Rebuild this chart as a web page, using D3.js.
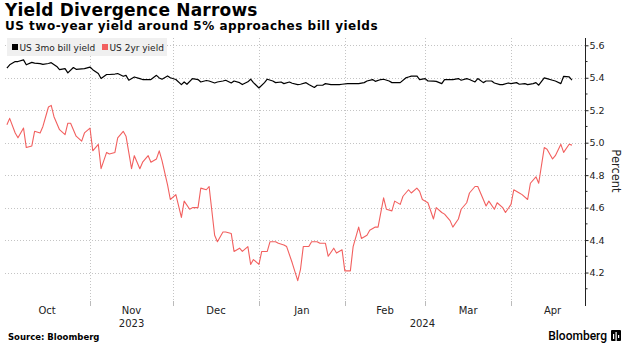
<!DOCTYPE html>
<html>
<head>
<meta charset="utf-8">
<script src="https://cdn.jsdelivr.net/npm/d3@7"></script>
<style>
  html, body { margin: 0; padding: 0; background: #fff; }
  svg { display: block; font-family: "DejaVu Sans", sans-serif; }
</style>
</head>
<body>
<div id="viz"></div>
<script>
// Values (percent), trading days Oct 2023 - Apr 2024.
const billSeries = [
  ["2023-10-02", 5.46], ["2023-10-03", 5.48], ["2023-10-05", 5.50], ["2023-10-06", 5.50],
  ["2023-10-08", 5.51], ["2023-10-09", 5.48], ["2023-10-11", 5.495], ["2023-10-12", 5.49],
  ["2023-10-14", 5.487], ["2023-10-15", 5.483], ["2023-10-17", 5.488], ["2023-10-18", 5.493],
  ["2023-10-20", 5.47], ["2023-10-21", 5.45], ["2023-10-23", 5.456], ["2023-10-24", 5.43],
  ["2023-10-26", 5.463], ["2023-10-27", 5.452], ["2023-10-29", 5.455], ["2023-10-30", 5.456],
  ["2023-11-01", 5.466], ["2023-11-02", 5.45], ["2023-11-04", 5.426], ["2023-11-05", 5.395],
  ["2023-11-07", 5.42], ["2023-11-08", 5.42], ["2023-11-10", 5.423], ["2023-11-11", 5.426],
  ["2023-11-13", 5.409], ["2023-11-14", 5.415], ["2023-11-15", 5.385], ["2023-11-17", 5.405],
  ["2023-11-19", 5.395], ["2023-11-20", 5.389], ["2023-11-22", 5.389], ["2023-11-23", 5.389],
  ["2023-11-25", 5.415], ["2023-11-26", 5.399], ["2023-11-27", 5.391], ["2023-11-29", 5.411],
  ["2023-11-30", 5.40], ["2023-12-02", 5.389], ["2023-12-04", 5.358], ["2023-12-05", 5.374],
  ["2023-12-06", 5.36], ["2023-12-08", 5.395], ["2023-12-10", 5.389], ["2023-12-11", 5.374],
  ["2023-12-13", 5.383], ["2023-12-14", 5.38], ["2023-12-16", 5.368], ["2023-12-17", 5.374],
  ["2023-12-19", 5.38], ["2023-12-20", 5.385], ["2023-12-22", 5.368], ["2023-12-23", 5.38],
  ["2023-12-25", 5.37], ["2023-12-26", 5.358], ["2023-12-28", 5.375], ["2023-12-29", 5.391],
  ["2023-12-30", 5.37], ["2024-01-01", 5.337], ["2024-01-03", 5.37], ["2024-01-04", 5.391],
  ["2024-01-06", 5.38], ["2024-01-07", 5.37], ["2024-01-09", 5.374], ["2024-01-10", 5.364],
  ["2024-01-12", 5.374], ["2024-01-13", 5.366], ["2024-01-15", 5.358], ["2024-01-16", 5.36],
  ["2024-01-18", 5.37], ["2024-01-19", 5.358], ["2024-01-21", 5.34], ["2024-01-22", 5.354],
  ["2024-01-24", 5.354], ["2024-01-25", 5.364], ["2024-01-27", 5.358], ["2024-01-28", 5.358],
  ["2024-01-30", 5.358], ["2024-01-31", 5.36], ["2024-02-02", 5.364], ["2024-02-03", 5.364],
  ["2024-02-05", 5.364], ["2024-02-06", 5.364], ["2024-02-08", 5.37], ["2024-02-09", 5.38],
  ["2024-02-11", 5.389], ["2024-02-12", 5.378], ["2024-02-14", 5.389], ["2024-02-15", 5.391],
  ["2024-02-17", 5.38], ["2024-02-18", 5.37], ["2024-02-19", 5.37], ["2024-02-21", 5.37],
  ["2024-02-23", 5.399], ["2024-02-24", 5.405], ["2024-02-25", 5.41], ["2024-02-27", 5.411],
  ["2024-02-28", 5.389], ["2024-03-01", 5.395], ["2024-03-02", 5.38], ["2024-03-04", 5.379],
  ["2024-03-05", 5.378], ["2024-03-07", 5.364], ["2024-03-08", 5.389], ["2024-03-10", 5.389],
  ["2024-03-11", 5.389], ["2024-03-13", 5.395], ["2024-03-14", 5.385], ["2024-03-16", 5.395],
  ["2024-03-17", 5.389], ["2024-03-19", 5.374], ["2024-03-20", 5.395], ["2024-03-22", 5.37],
  ["2024-03-23", 5.38], ["2024-03-25", 5.38], ["2024-03-26", 5.368], ["2024-03-28", 5.358],
  ["2024-03-29", 5.358], ["2024-03-31", 5.368], ["2024-04-01", 5.364], ["2024-04-03", 5.37],
  ["2024-04-04", 5.36], ["2024-04-06", 5.364], ["2024-04-07", 5.358], ["2024-04-09", 5.364],
  ["2024-04-10", 5.37], ["2024-04-11", 5.354], ["2024-04-13", 5.399], ["2024-04-14", 5.395],
  ["2024-04-16", 5.385], ["2024-04-17", 5.38], ["2024-04-19", 5.364], ["2024-04-20", 5.409],
  ["2024-04-22", 5.405], ["2024-04-23", 5.385]
];

const twoYrSeries = [
  ["2023-10-02", 5.11], ["2023-10-03", 5.15], ["2023-10-05", 5.06], ["2023-10-06", 5.03],
  ["2023-10-08", 5.09], ["2023-10-09", 4.97], ["2023-10-11", 4.98], ["2023-10-12", 5.07],
  ["2023-10-14", 5.06], ["2023-10-15", 5.10], ["2023-10-17", 5.22], ["2023-10-18", 5.23],
  ["2023-10-19", 5.16], ["2023-10-21", 5.08], ["2023-10-23", 5.05], ["2023-10-24", 5.12],
  ["2023-10-25", 5.12], ["2023-10-27", 5.04], ["2023-10-29", 5.01], ["2023-10-30", 5.06],
  ["2023-11-01", 5.09], ["2023-11-02", 4.95], ["2023-11-04", 4.99], ["2023-11-05", 4.84],
  ["2023-11-07", 4.94], ["2023-11-08", 4.93], ["2023-11-10", 4.94], ["2023-11-11", 5.03],
  ["2023-11-13", 5.07], ["2023-11-14", 5.04], ["2023-11-16", 4.84], ["2023-11-17", 4.92],
  ["2023-11-19", 4.84], ["2023-11-20", 4.88], ["2023-11-22", 4.92], ["2023-11-23", 4.88],
  ["2023-11-25", 4.90], ["2023-11-26", 4.95], ["2023-11-27", 4.89], ["2023-11-29", 4.74],
  ["2023-11-30", 4.65], ["2023-12-02", 4.68], ["2023-12-04", 4.54], ["2023-12-05", 4.64],
  ["2023-12-07", 4.59], ["2023-12-08", 4.60], ["2023-12-10", 4.60], ["2023-12-11", 4.72],
  ["2023-12-13", 4.71], ["2023-12-14", 4.73], ["2023-12-16", 4.43], ["2023-12-17", 4.39],
  ["2023-12-19", 4.45], ["2023-12-20", 4.45], ["2023-12-22", 4.44], ["2023-12-23", 4.33],
  ["2023-12-25", 4.35], ["2023-12-26", 4.33], ["2023-12-28", 4.36], ["2023-12-29", 4.25],
  ["2023-12-30", 4.28], ["2024-01-01", 4.25], ["2024-01-02", 4.33], ["2024-01-04", 4.33],
  ["2024-01-05", 4.39], ["2024-01-07", 4.39], ["2024-01-08", 4.38], ["2024-01-10", 4.37],
  ["2024-01-11", 4.36], ["2024-01-13", 4.26], ["2024-01-15", 4.15], ["2024-01-16", 4.22],
  ["2024-01-17", 4.36], ["2024-01-19", 4.36], ["2024-01-20", 4.39], ["2024-01-22", 4.39],
  ["2024-01-23", 4.38], ["2024-01-25", 4.38], ["2024-01-26", 4.30], ["2024-01-28", 4.35],
  ["2024-01-29", 4.32], ["2024-01-31", 4.34], ["2024-02-01", 4.21], ["2024-02-03", 4.21],
  ["2024-02-04", 4.36], ["2024-02-06", 4.48], ["2024-02-07", 4.41], ["2024-02-09", 4.43],
  ["2024-02-10", 4.46], ["2024-02-12", 4.48], ["2024-02-13", 4.48], ["2024-02-15", 4.66],
  ["2024-02-16", 4.59], ["2024-02-18", 4.58], ["2024-02-19", 4.64], ["2024-02-21", 4.62],
  ["2024-02-22", 4.67], ["2024-02-24", 4.71], ["2024-02-25", 4.69], ["2024-02-27", 4.72],
  ["2024-02-28", 4.70], ["2024-02-29", 4.65], ["2024-03-02", 4.63], ["2024-03-04", 4.53],
  ["2024-03-05", 4.60], ["2024-03-07", 4.57], ["2024-03-08", 4.56], ["2024-03-10", 4.52],
  ["2024-03-11", 4.48], ["2024-03-13", 4.53], ["2024-03-14", 4.59], ["2024-03-16", 4.63],
  ["2024-03-17", 4.69], ["2024-03-19", 4.73], ["2024-03-20", 4.73], ["2024-03-21", 4.69],
  ["2024-03-23", 4.61], ["2024-03-24", 4.64], ["2024-03-26", 4.59], ["2024-03-27", 4.63],
  ["2024-03-29", 4.60], ["2024-03-30", 4.57], ["2024-04-01", 4.62], ["2024-04-02", 4.71],
  ["2024-04-04", 4.69], ["2024-04-05", 4.68], ["2024-04-07", 4.65], ["2024-04-08", 4.75],
  ["2024-04-10", 4.79], ["2024-04-11", 4.75], ["2024-04-13", 4.97], ["2024-04-14", 4.96],
  ["2024-04-16", 4.90], ["2024-04-17", 4.92], ["2024-04-19", 4.99], ["2024-04-20", 4.94],
  ["2024-04-22", 4.99], ["2024-04-23", 4.985]
];

const seriesNames = ["US 3mo bill yield", "US 2yr yield"];
const yTicks = [4.2, 4.4, 4.6, 4.8, 5.0, 5.2, 5.4, 5.6];
const monthStarts = ["2023-10-01", "2023-11-01", "2023-12-01", "2024-01-01",
  "2024-02-01", "2024-03-01", "2024-04-01", "2024-05-01"];
const monthLabels = ["Oct", "Nov", "Dec", "Jan", "Feb", "Mar", "Apr"];
const yearLabels = ["2023", "2024"];

const W = 627, H = 349;
const COLORS = { bill: "#000000", twoYr: "#f2605f", grid: "#c4c4c4", axis: "#222" };
const parse = d3.timeParse("%Y-%m-%d");

const svg = d3.select("#viz").append("svg")
  .attr("width", W).attr("height", H);

const x = d3.scaleTime()
  .domain([parse("2023-10-01"), parse("2024-04-28")])
  .range([4.13, 585.8]);
const y = d3.scaleLinear()
  .domain([4.0, 5.645])
  .range([305, 38]);

const plotLeft = 5, plotRight = 585.5, plotTop = 38, plotBottom = 301;

// Header
svg.append("text")
  .attr("x", 5).attr("y", 16)
  .attr("font-size", 17).attr("font-weight", "bold")
  .attr("letter-spacing", 0.2)
  .attr("fill", "#000")
  .text("Yield Divergence Narrows");

svg.append("text")
  .attr("x", 5).attr("y", 30)
  .attr("font-size", 12).attr("font-weight", "bold")
  .attr("letter-spacing", 0.5)
  .attr("fill", "#000")
  .text("US two-year yield around 5% approaches bill yields");

// Gridlines
svg.append("g")
  .selectAll("line")
  .data(yTicks)
  .join("line")
  .attr("x1", plotLeft).attr("x2", plotRight)
  .attr("y1", d => Math.round(y(d)) + 0.5).attr("y2", d => Math.round(y(d)) + 0.5)
  .attr("stroke", COLORS.grid).attr("stroke-dasharray", "1,2");

const innerMonths = monthStarts.slice(1, -1).map(parse);
svg.append("g")
  .selectAll("line")
  .data(innerMonths)
  .join("line")
  .attr("x1", d => Math.round(x(d)) + 0.5).attr("x2", d => Math.round(x(d)) + 0.5)
  .attr("y1", plotTop).attr("y2", plotBottom)
  .attr("stroke", COLORS.grid).attr("stroke-dasharray", "1,2");

// Month tick marks under the plot
svg.append("g")
  .selectAll("line")
  .data(innerMonths)
  .join("line")
  .attr("x1", d => Math.round(x(d)) + 0.5).attr("x2", d => Math.round(x(d)) + 0.5)
  .attr("y1", plotBottom).attr("y2", plotBottom + 5)
  .attr("stroke", "#bbb");

// Month labels, centred on each month
const months = monthStarts.map(parse);
svg.append("g")
  .selectAll("text")
  .data(monthLabels)
  .join("text")
  .attr("x", (d, i) => (x(months[i]) + x(months[i + 1])) / 2)
  .attr("y", 314)
  .attr("text-anchor", "middle")
  .attr("font-size", 10)
  .attr("fill", "#222")
  .text(d => d);

// Year labels, centred on the visible part of each year
const [d0, d1] = x.domain();
svg.append("g")
  .selectAll("text")
  .data(yearLabels)
  .join("text")
  .attr("x", d => {
    const a = d3.max([d0, new Date(+d, 0, 1)]);
    const b = d3.min([d1, new Date(+d + 1, 0, 1)]);
    return (x(a) + x(b)) / 2;
  })
  .attr("y", 327)
  .attr("text-anchor", "middle")
  .attr("font-size", 10)
  .attr("fill", "#222")
  .text(d => d);

// Right axis
const yAxis = d3.axisRight(y)
  .tickValues(yTicks)
  .tickSize(3)
  .tickPadding(1)
  .tickFormat(d3.format(".1f"));
const axisG = svg.append("g")
  .attr("transform", `translate(${plotRight},0)`)
  .call(yAxis);
axisG.select(".domain").remove();
axisG.selectAll("line").attr("stroke", COLORS.axis);
axisG.selectAll("text")
  .attr("font-family", "DejaVu Sans, sans-serif")
  .attr("font-size", 9.5)
  .attr("fill", "#222");

const minorTicks = d3.range(4.1, 5.65, 0.2);
svg.append("g")
  .selectAll("line")
  .data(minorTicks)
  .join("line")
  .attr("x1", plotRight).attr("x2", plotRight + 2)
  .attr("y1", d => y(d)).attr("y2", d => y(d))
  .attr("stroke", COLORS.axis);

svg.append("line")
  .attr("x1", plotRight).attr("x2", plotRight)
  .attr("y1", plotTop).attr("y2", plotBottom + 5)
  .attr("stroke", COLORS.axis);

svg.append("text")
  .attr("transform", `translate(612,171) rotate(90)`)
  .attr("text-anchor", "middle")
  .attr("font-size", 11.5)
  .attr("fill", "#222")
  .text("Percent");

// Lines
const line = d3.line()
  .x(d => x(parse(d[0])))
  .y(d => y(d[1]));

svg.append("path")
  .datum(twoYrSeries)
  .attr("fill", "none")
  .attr("stroke", COLORS.twoYr)
  .attr("stroke-width", 1.1)
  .attr("stroke-linejoin", "round")
  .attr("d", line);

svg.append("path")
  .datum(billSeries)
  .attr("fill", "none")
  .attr("stroke", COLORS.bill)
  .attr("stroke-width", 1.2)
  .attr("stroke-linejoin", "round")
  .attr("d", line);

// Legend
const legend = svg.append("g");
legend.append("rect")
  .attr("x", 7).attr("y", 38).attr("width", 160).attr("height", 18)
  .attr("fill", "#f0f0f0");
const legendItems = [
  { name: seriesNames[0], color: COLORS.bill, x: 12 },
  { name: seriesNames[1], color: COLORS.twoYr, x: 102 }
];
const li = legend.selectAll("g")
  .data(legendItems)
  .join("g")
  .attr("transform", d => `translate(${d.x},0)`);
li.append("rect")
  .attr("x", 0).attr("y", 44).attr("width", 6).attr("height", 6)
  .attr("fill", d => d.color);
li.append("text")
  .attr("x", 7.5).attr("y", 50.5)
  .attr("font-size", 9)
  .attr("fill", "#222")
  .text(d => d.name);

// Footer
svg.append("text")
  .attr("x", 8).attr("y", 340)
  .attr("font-size", 8.5).attr("font-weight", "bold")
  .attr("fill", "#000")
  .text("Source: Bloomberg");

svg.append("text")
  .attr("x", 607).attr("y", 340)
  .attr("text-anchor", "end")
  .attr("font-family", "Roboto, sans-serif")
  .attr("font-size", 12).attr("font-weight", 500)
  .attr("fill", "#000")
  .text("Bloomberg");

const logo = svg.append("g").attr("transform", "translate(611,330)");
logo.append("rect").attr("width", 10).attr("height", 11).attr("rx", 1).attr("fill", "#000");
logo.selectAll("rect.bar")
  .data([[2, 4, 7], [4.5, 2, 9], [7, 5, 6]])
  .join("rect")
  .attr("class", "bar")
  .attr("x", d => d[0]).attr("y", d => d[1])
  .attr("width", 1.2).attr("height", d => d[2] - d[1] + 2)
  .attr("fill", "#fff");
</script>
</body>
</html>
